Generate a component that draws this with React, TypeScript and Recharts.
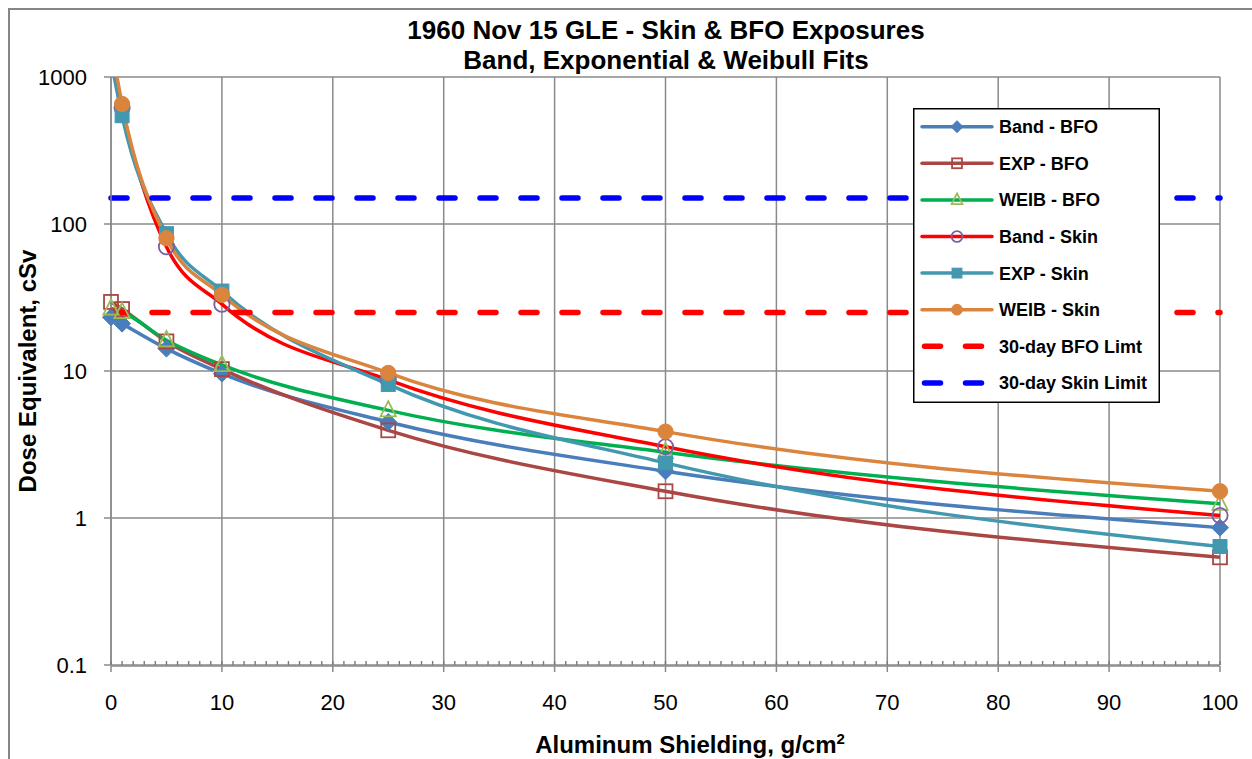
import React from 'react';
import { LineChart, Line, XAxis, YAxis, CartesianGrid, Legend } from 'recharts';

// ---- Data ----
const shielding = [0, 1, 5, 10, 25, 50, 100];
const bandBFO = [23.2, 21.0, 14.2, 9.6, 4.5, 2.08, 0.86];
const expBFO = [29.5, 26.4, 15.9, 10.3, 3.95, 1.52, 0.54];
const weibBFO = [26.6, 25.2, 16.2, 11.0, 5.4, 2.8, 1.25];
const bandSkin = [1500, 620, 70, 28.5, 8.7, 3.05, 1.04];
const expSkin = [1300, 545, 86, 35, 8.1, 2.37, 0.64];
const weibSkin = [1700, 655, 80, 33, 9.7, 3.87, 1.52];
const bfoLimit = [25, 25, 25, 25, 25, 25, 25];
const skinLimit = [150, 150, 150, 150, 150, 150, 150];

const xTicks = [0, 10, 20, 30, 40, 50, 60, 70, 80, 90, 100];
const xMinorTicks = Array.from({ length: 101 }, (_, i) => i);
const yTicks = [0.1, 1, 10, 100, 1000];

const titleLines = ['1960 Nov 15 GLE - Skin & BFO Exposures', 'Band, Exponential & Weibull Fits'];
const xTitle = 'Aluminum Shielding, g/cm';
const yTitle = 'Dose Equivalent, cSv';

const data = shielding.map((x, i) => ({
  x,
  bandBFO: bandBFO[i],
  expBFO: expBFO[i],
  weibBFO: weibBFO[i],
  bandSkin: bandSkin[i],
  expSkin: expSkin[i],
  weibSkin: weibSkin[i],
  bfoLimit: bfoLimit[i],
  skinLimit: skinLimit[i],
}));

type MarkerKind = 'diamond' | 'square' | 'triangle' | 'circle' | 'none';

interface SeriesDef {
  key: string;
  name: string;
  color: string;
  marker: MarkerKind;
  mFill: string;
  mStroke: string;
  axis: string;
  dash?: boolean;
}

const series: SeriesDef[] = [
  { key: 'bandBFO', name: 'Band - BFO', color: '#4a7ebb', marker: 'diamond', mFill: '#4a7ebb', mStroke: '#4a7ebb', axis: 'main' },
  { key: 'expBFO', name: 'EXP - BFO', color: '#aa4643', marker: 'square', mFill: 'none', mStroke: '#aa4643', axis: 'main' },
  { key: 'weibBFO', name: 'WEIB - BFO', color: '#00b050', marker: 'triangle', mFill: 'none', mStroke: '#9bbb59', axis: 'main' },
  { key: 'bandSkin', name: 'Band - Skin', color: '#ff0000', marker: 'circle', mFill: 'none', mStroke: '#7d60a0', axis: 'skin' },
  { key: 'expSkin', name: 'EXP - Skin', color: '#4198af', marker: 'square', mFill: '#4198af', mStroke: '#4198af', axis: 'skin' },
  { key: 'weibSkin', name: 'WEIB - Skin', color: '#db843d', marker: 'circle', mFill: '#db843d', mStroke: '#db843d', axis: 'skin' },
  { key: 'bfoLimit', name: '30-day BFO Limt', color: '#ff0000', marker: 'none', mFill: 'none', mStroke: 'none', axis: 'main', dash: true },
  { key: 'skinLimit', name: '30-day Skin Limit', color: '#0000ff', marker: 'none', mFill: 'none', mStroke: 'none', axis: 'main', dash: true },
];

const FONT = "'Liberation Sans', Arial, Helvetica, sans-serif";
const GRID = '#8a8a8a';

function Marker({ cx, cy, kind, size, fill, stroke }: { cx: number; cy: number; kind: MarkerKind; size: number; fill: string; stroke: string }) {
  if (cx == null || cy == null || !isFinite(cx) || !isFinite(cy)) return null;
  const h = size / 2;
  const sw = fill === 'none' ? 1.8 : 1;
  switch (kind) {
    case 'diamond':
      return <polygon points={`${cx},${cy - h} ${cx + h},${cy} ${cx},${cy + h} ${cx - h},${cy}`} fill={fill} stroke={stroke} strokeWidth={sw} />;
    case 'square': {
      const s = size * 0.82;
      return <rect x={cx - s / 2} y={cy - s / 2} width={s} height={s} fill={fill} stroke={stroke} strokeWidth={sw} />;
    }
    case 'triangle': {
      const s = size * 0.9;
      return <polygon points={`${cx},${cy - s * 0.6} ${cx + s / 2},${cy + s * 0.4} ${cx - s / 2},${cy + s * 0.4}`} fill={fill} stroke={stroke} strokeWidth={sw} />;
    }
    case 'circle':
      return <circle cx={cx} cy={cy} r={h * 0.9} fill={fill} stroke={stroke} strokeWidth={sw} />;
    default:
      return null;
  }
}

function LegendBox() {
  const rowH = 36.6;
  return (
    <svg width={248} height={296} style={{ display: 'block', overflow: 'visible' }}>
      <rect x={0.75} y={0.75} width={245.5} height={293.5} fill="#ffffff" stroke="#000000" strokeWidth={1.5} />
      {series.map((s, i) => {
        const y = 18.7 + rowH * i;
        return (
          <g key={s.key}>
            {s.dash ? (
              <line x1={11.5} y1={y} x2={77} y2={y} stroke={s.color} strokeWidth={5.5} strokeDasharray="16 25" strokeLinecap="round" />
            ) : (
              <line x1={9} y1={y} x2={79} y2={y} stroke={s.color} strokeWidth={3.5} strokeLinecap="round" />
            )}
            <Marker cx={44} cy={y} kind={s.marker} size={12} fill={s.mFill} stroke={s.mStroke} />
            <text x={86} y={y + 6.5} fontFamily={FONT} fontSize={18} fontWeight="bold" fill="#000">
              {s.name}
            </text>
          </g>
        );
      })}
    </svg>
  );
}

function MinorTick(props: any) {
  const { x, y } = props;
  if (x == null || y == null) return null;
  return <line x1={x} y1={y} x2={x} y2={y - 4} stroke="#7a7a7a" strokeWidth={1.4} />;
}

export default function App() {
  return (
    <div style={{ position: 'fixed', left: 0, top: 0, width: 1252, height: 759, background: '#fff', overflow: 'hidden' }}>
      <div
        style={{
          position: 'absolute',
          left: 8,
          top: 8,
          width: 1244,
          height: 751,
          borderLeft: '2px solid #868686',
          borderTop: '2px solid #868686',
          boxSizing: 'border-box',
        }}
      />
      <div style={{ position: 'absolute', left: 0, top: 0 }}>
        <LineChart width={1252} height={759} data={data} margin={{ top: 77, right: 32, bottom: 34, left: 51 }}>
          <CartesianGrid stroke={GRID} strokeWidth={1.5} xAxisId="xMain" yAxisId="main" />
          <XAxis
            xAxisId="aMinor"
            dataKey="x"
            type="number"
            domain={[0, 100]}
            ticks={xMinorTicks}
            interval={0}
            height={1}
            tickSize={0}
            tickMargin={0}
            axisLine={false}
            tickLine={false}
            tick={(p: any) => <MinorTick key={`mt-${p.index}`} {...p} />}
          />
          <XAxis
            xAxisId="xMain"
            dataKey="x"
            type="number"
            domain={[0, 100]}
            ticks={xTicks}
            interval={0}
            height={59}
            tickSize={6}
            tickMargin={22}
            axisLine={{ stroke: GRID, strokeWidth: 1.5 }}
            tickLine={{ stroke: GRID, strokeWidth: 1.5 }}
            tick={{ fill: '#000', fontSize: 22, fontFamily: FONT }}
          />
          <YAxis
            yAxisId="main"
            type="number"
            scale="log"
            domain={[0.1, 1000]}
            ticks={yTicks}
            interval={0}
            width={60}
            tickSize={7}
            tickMargin={17}
            axisLine={{ stroke: GRID, strokeWidth: 1.5 }}
            tickLine={{ stroke: GRID, strokeWidth: 1.5 }}
            tick={{ fill: '#000', fontSize: 22, fontFamily: FONT }}
          />
          <YAxis yAxisId="skin" type="number" scale="log" domain={[0.1, 1000]} allowDataOverflow hide />
          {series.map((s) =>
            s.dash ? (
              <Line
                key={s.key}
                xAxisId="aMinor"
                yAxisId={s.axis}
                dataKey={s.key}
                name={s.name}
                type="linear"
                stroke={s.color}
                strokeWidth={5.5}
                strokeDasharray="16 25"
                strokeLinecap="round"
                dot={false}
                activeDot={false}
                isAnimationActive={false}
              />
            ) : (
              <Line
                key={s.key}
                xAxisId="xMain"
                yAxisId={s.axis}
                dataKey={s.key}
                name={s.name}
                type="monotone"
                stroke={s.color}
                strokeWidth={3.5}
                dot={(p: any) => (
                  <Marker key={`${s.key}-${p.index}`} cx={p.cx} cy={p.cy} kind={s.marker} size={17} fill={s.mFill} stroke={s.mStroke} />
                )}
                activeDot={false}
                isAnimationActive={false}
              />
            )
          )}
          <Legend
            layout="vertical"
            align="center"
            verticalAlign="middle"
            width={248}
            height={296}
            wrapperStyle={{ left: 913, top: 108, width: 248, height: 296 }}
            content={() => <LegendBox />}
          />
        </LineChart>
      </div>
      <svg width={1252} height={759} style={{ position: 'absolute', left: 0, top: 0, pointerEvents: 'none' }}>
        <text x={666} y={39} textAnchor="middle" fontFamily={FONT} fontSize={26} fontWeight="bold" fill="#000">
          {titleLines[0]}
        </text>
        <text x={666} y={69} textAnchor="middle" fontFamily={FONT} fontSize={26} fontWeight="bold" fill="#000">
          {titleLines[1]}
        </text>
        <text x={690} y={753} textAnchor="middle" fontFamily={FONT} fontSize={24} fontWeight="bold" fill="#000">
          {xTitle}
          <tspan fontSize={15} dy={-9}>2</tspan>
        </text>
        <text
          x={36}
          y={371}
          textAnchor="middle"
          fontFamily={FONT}
          fontSize={24}
          fontWeight="bold"
          fill="#000"
          transform="rotate(-90, 36, 371)"
        >
          {yTitle}
        </text>
      </svg>
    </div>
  );
}
